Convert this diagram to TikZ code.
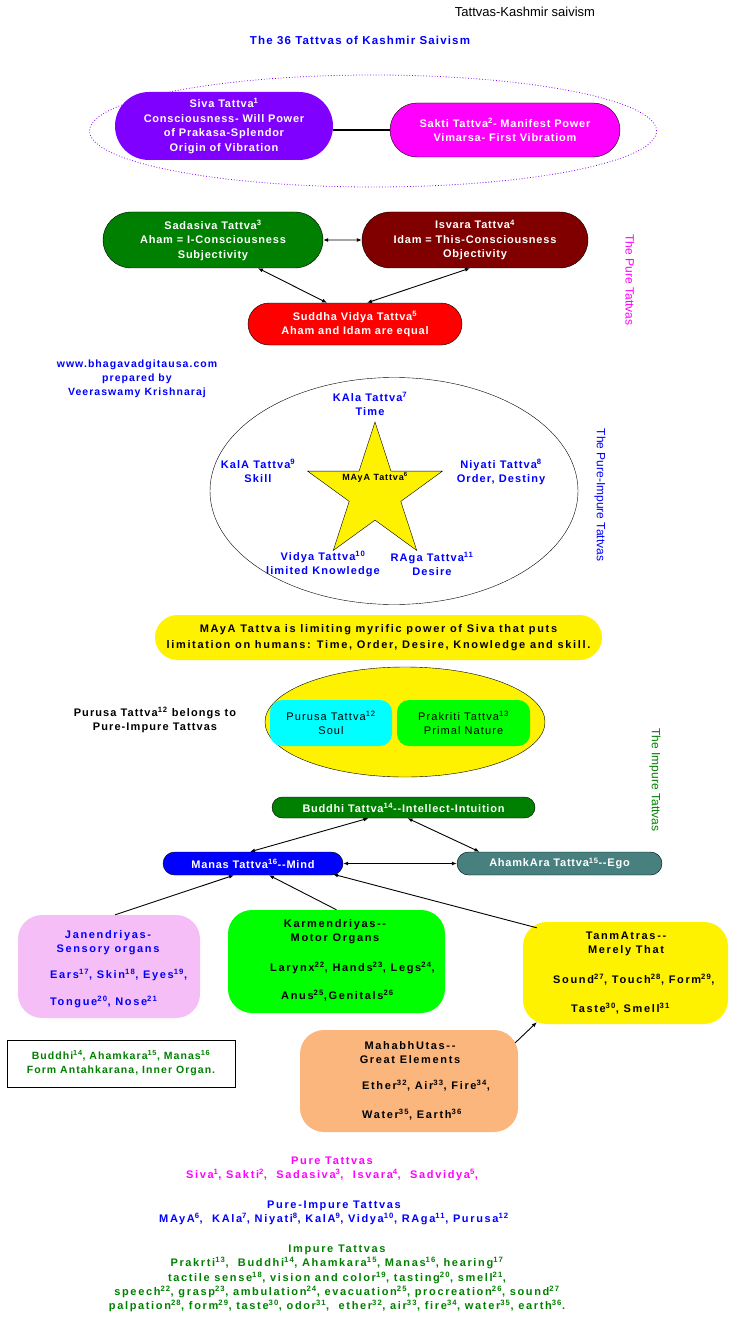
\documentclass[tikz,border=0pt]{standalone}
\usepackage{fontspec}
\setmainfont{Liberation Sans}[LetterSpace=10]
\newfontfamily\headfont{Liberation Sans}
\newfontfamily\pillfont{Liberation Sans}[LetterSpace=7]
\newfontfamily\widefont{Liberation Sans}[LetterSpace=15]
\usetikzlibrary{arrows.meta,shapes.geometric,shapes.misc}
\definecolor{sivapurple}{RGB}{128,0,255}
\definecolor{saktipink}{RGB}{255,0,255}
\definecolor{sadagreen}{RGB}{0,128,0}
\definecolor{isvarared}{RGB}{128,0,0}
\definecolor{egoteal}{RGB}{72,128,128}
\definecolor{janpink}{RGB}{246,190,246}
\definecolor{bhutaorange}{RGB}{250,182,125}
\definecolor{tattvablue}{RGB}{0,0,255}
\definecolor{soulcyan}{RGB}{0,255,255}
\definecolor{limegreen}{RGB}{0,255,0}
\newcommand\nsup[1]{\textsuperscript{#1}}
\tikzset{
  tattvapicture/.style={x=1pt, y=-1pt},
  tattvapill/.style={rounded rectangle, draw=black, text=white, align=center, inner sep=0pt, font=\pillfont\bfseries\fontsize{11}{14.5}\selectfont},
  tattvabox/.style={rounded corners=24pt, align=center, inner sep=0pt},
  tattvasoft/.style={rounded corners=12pt, align=center, inner sep=0pt, font=\fontsize{11}{14}\selectfont},
  tattvatext/.style={align=center, inner sep=0pt, font=\bfseries\fontsize{11}{14}\selectfont},
  tattvawide/.style={tattvatext, font=\widefont\bfseries\fontsize{11}{14}\selectfont},
  tattvalist/.style={align=left, anchor=west, inner sep=0pt, font=\widefont\bfseries\fontsize{11}{14}\selectfont},
  tattvaside/.style={rotate=-90, inner sep=0pt, font=\headfont\fontsize{12}{14}\selectfont},
  tattvaarrow/.style={-{Latex[length=5pt,width=4pt]}, line width=0.9pt},
  tattvaboth/.style={{Latex[length=5pt,width=4pt]}-{Latex[length=5pt,width=4pt]}, line width=0.9pt},
  tattvalink/.style={line width=2.4pt}
}
\begin{document}
\begin{tikzpicture}[tattvapicture]
\useasboundingbox (0,0) rectangle (733,1337);
% heading
\node[inner sep=0pt, font=\headfont\fontsize{13}{15}\selectfont] (head) at (525,12) {Tattvas-Kashmir saivism};
\node[tattvatext, text=tattvablue, font=\bfseries\fontsize{11.5}{14}\selectfont] (title) at (360,40) {The 36 Tattvas of Kashmir Saivism};
% Siva and Sakti
\node[ellipse, draw=sivapurple, dotted, thick, minimum width=567pt, minimum height=112pt, inner sep=0pt] (oval) at (373,131) {};
\node[tattvapill, draw=none, fill=sivapurple, minimum width=218pt, minimum height=68pt] (siva) at (224,126) {Siva Tattva\nsup{1}\\Consciousness- Will Power\\of Prakasa-Splendor\\Origin of Vibration};
\node[tattvapill, fill=saktipink, minimum width=230pt, minimum height=54pt] (sakti) at (505,130) {Sakti Tattva\nsup{2}- Manifest Power\\Vimarsa- First Vibratiom};
\draw[tattvalink] (siva.east |- sakti.west) -- (sakti.west);
% pure tattvas
\node[tattvapill, fill=sadagreen, minimum width=220pt, minimum height=56pt] (sadasiva) at (213,240) {Sadasiva Tattva\nsup{3}\\Aham = I-Consciousness\\Subjectivity};
\node[tattvapill, fill=isvarared, minimum width=226pt, minimum height=56pt] (isvara) at (475,240) {Isvara Tattva\nsup{4}\\Idam = This-Consciousness\\Objectivity};
\node[tattvapill, fill=red, minimum width=214pt, minimum height=42pt] (suddha) at (355,324) {Suddha Vidya Tattva\nsup{5}\\Aham and Idam are equal};
\draw[tattvaboth] (sadasiva) -- (isvara);
\draw[tattvaboth] ([xshift=45pt]sadasiva.south) -- ([xshift=-28pt]suddha.north);
\draw[tattvaboth] ([xshift=-5pt]isvara.south) -- ([xshift=12pt]suddha.north);
\node[tattvaside, text=saktipink] (puretag) at (630,280) {The Pure Tattvas};
\node[tattvatext, text=tattvablue, font=\bfseries\fontsize{10.5}{14}\selectfont] (credit) at (137,379) {www.bhagavadgitausa.com\\prepared by\\Veeraswamy Krishnaraj};
% pure-impure tattvas
\node[ellipse, draw=black, minimum width=368pt, minimum height=227pt, inner sep=0pt] (ring) at (394,491) {};
\node[star, star points=5, star point ratio=2.618, minimum size=142pt, inner sep=0pt, draw=black, fill=yellow] (maya) at (375,493) {};
\node[tattvatext, font=\bfseries\fontsize{9}{11}\selectfont] (mayalabel) at (375,477) {MAyA Tattva\nsup{6}};
\node[tattvatext, text=tattvablue] (kala) at (370,404) {KAla Tattva\nsup{7}\\Time};
\node[tattvatext, text=tattvablue] (skill) at (258,471) {KalA Tattva\nsup{9}\\Skill};
\node[tattvatext, text=tattvablue] (niyati) at (501,472) {Niyati Tattva\nsup{8}\\Order, Destiny};
\node[tattvatext, text=tattvablue] (vidya) at (323,564) {Vidya Tattva\nsup{10}\\limited Knowledge};
\node[tattvatext, text=tattvablue] (raga) at (432,564) {RAga Tattva\nsup{11}\\Desire};
\node[tattvaside, text=tattvablue] (mixtag) at (600,495) {The Pure-Impure Tattvas};
\node[rounded rectangle, fill=yellow, minimum width=447pt, minimum height=45pt, tattvatext, font=\widefont\bfseries\fontsize{11}{16}\selectfont] (mayanote) at (378.5,637.5) {MAyA Tattva is limiting myrific power of Siva that puts\\limitation on humans: Time, Order, Desire, Knowledge and skill.};
% purusa and prakriti
\node[ellipse, draw=black, fill=yellow, minimum width=280pt, minimum height=110pt, inner sep=0pt] (egg) at (405,722) {};
\node[tattvasoft, fill=soulcyan, minimum width=122pt, minimum height=46pt] (purusa) at (331,723) {Purusa Tattva\nsup{12}\\Soul};
\node[tattvasoft, fill=limegreen, minimum width=133pt, minimum height=46pt] (prakriti) at (463.5,723) {Prakriti Tattva\nsup{13}\\Primal Nature};
\node[tattvatext] (purusanote) at (155,720) {Purusa Tattva\nsup{12} belongs to\\Pure-Impure Tattvas};
\node[tattvaside, text=sadagreen] (impuretag) at (655,780) {The Impure Tattvas};
% inner organ
\node[tattvapill, fill=sadagreen, minimum width=263pt, minimum height=21pt] (buddhi) at (403.5,807.5) {Buddhi Tattva\nsup{14}-{}-Intellect-Intuition};
\node[tattvapill, fill=blue, minimum width=180pt, minimum height=23pt] (manas) at (253,863.5) {Manas Tattva\nsup{16}-{}-Mind};
\node[tattvapill, fill=egoteal, minimum width=205pt, minimum height=23pt] (ahamkara) at (559.5,863.5) {AhamkAra Tattva\nsup{15}-{}-Ego};
\draw[tattvaboth] ([xshift=-35pt]buddhi.south) -- ([xshift=-3pt]manas.north);
\draw[tattvaboth] ([xshift=4pt]buddhi.south) -- ([xshift=-80pt]ahamkara.north);
\draw[tattvaboth] (manas) -- (ahamkara);
% senses and elements
\node[tattvabox, fill=janpink, minimum width=182pt, minimum height=103pt] (jan) at (109,966.5) {};
\node[tattvawide, text=tattvablue] (janhead) at (108,942.5) {Janendriyas-\\Sensory organs};
\node[tattvalist, text=tattvablue] (janlist) at (50,988.5) {Ears\nsup{17}, Skin\nsup{18}, Eyes\nsup{19},\\[13pt]Tongue\nsup{20}, Nose\nsup{21}};
\node[tattvabox, fill=limegreen, minimum width=217pt, minimum height=103pt] (karm) at (336.5,961.5) {};
\node[tattvawide] (karmhead) at (335,932) {Karmendriyas-{}-\\Motor Organs};
\node[tattvalist] (karmlist) at (270,982) {Larynx\nsup{22}, Hands\nsup{23}, Legs\nsup{24},\\[14pt]\hspace*{11pt}Anus\nsup{25},Genitals\nsup{26}};
\node[tattvabox, fill=yellow, minimum width=205pt, minimum height=102pt] (tanm) at (625.5,973) {};
\node[tattvawide] (tanmhead) at (626,944) {TanmAtras-{}-\\Merely That};
\node[tattvalist] (tanmlist) at (553,994.5) {Sound\nsup{27}, Touch\nsup{28}, Form\nsup{29},\\[15pt]\hspace*{18pt}Taste\nsup{30}, Smell\nsup{31}};
\node[tattvabox, fill=bhutaorange, minimum width=218pt, minimum height=102pt] (bhuta) at (409,1081) {};
\node[tattvawide] (bhutahead) at (410,1053) {MahabhUtas-{}-\\Great Elements};
\node[tattvalist] (bhutalist) at (362,1100.5) {Ether\nsup{32}, Air\nsup{33}, Fire\nsup{34},\\[15pt]Water\nsup{35}, Earth\nsup{36}};
\draw[tattvaarrow] ([xshift=6pt]jan.north) -- ([xshift=-19pt]manas.south);
\draw[tattvaarrow] (karm.north) -- ([xshift=16pt]manas.south);
\draw[tattvaarrow] ([xshift=14pt,yshift=-6pt]tanm.north west) -- ([xshift=80pt,yshift=1pt]manas.south);
\draw[tattvaarrow] ([xshift=-3pt,yshift=-13pt]bhuta.north east) -- ([xshift=14pt,yshift=2pt]tanm.south west);
\node[draw=black, tattvatext, text=sadagreen, font=\bfseries\fontsize{10.5}{14}\selectfont, minimum width=228pt, minimum height=47pt] (antah) at (121,1063.5) {Buddhi\nsup{14}, Ahamkara\nsup{15}, Manas\nsup{16}\\Form Antahkarana, Inner Organ.};
% summary
\node[tattvawide, text=saktipink] (puresum) at (332,1169) {Pure Tattvas\\Siva\nsup{1}, Sakti\nsup{2},\ \ Sadasiva\nsup{3},\ \ Isvara\nsup{4},\ \ Sadvidya\nsup{5},};
\node[tattvawide, text=tattvablue] (mixsum) at (334,1213) {Pure-Impure Tattvas\\MAyA\nsup{6},\ \ KAla\nsup{7}, Niyati\nsup{8}, KalA\nsup{9}, Vidya\nsup{10}, RAga\nsup{11}, Purusa\nsup{12}};
\node[tattvawide, text=sadagreen, font=\widefont\bfseries\fontsize{11}{14.3}\selectfont] (impuresum) at (337,1278.5) {Impure Tattvas\\Prakrti\nsup{13},\ \ Buddhi\nsup{14}, Ahamkara\nsup{15}, Manas\nsup{16}, hearing\nsup{17}\\tactile sense\nsup{18}, vision and color\nsup{19}, tasting\nsup{20}, smell\nsup{21},\\speech\nsup{22}, grasp\nsup{23}, ambulation\nsup{24}, evacuation\nsup{25}, procreation\nsup{26}, sound\nsup{27}\\palpation\nsup{28}, form\nsup{29}, taste\nsup{30}, odor\nsup{31},\ \ ether\nsup{32}, air\nsup{33}, fire\nsup{34}, water\nsup{35}, earth\nsup{36}.};
\end{tikzpicture}
\end{document}
